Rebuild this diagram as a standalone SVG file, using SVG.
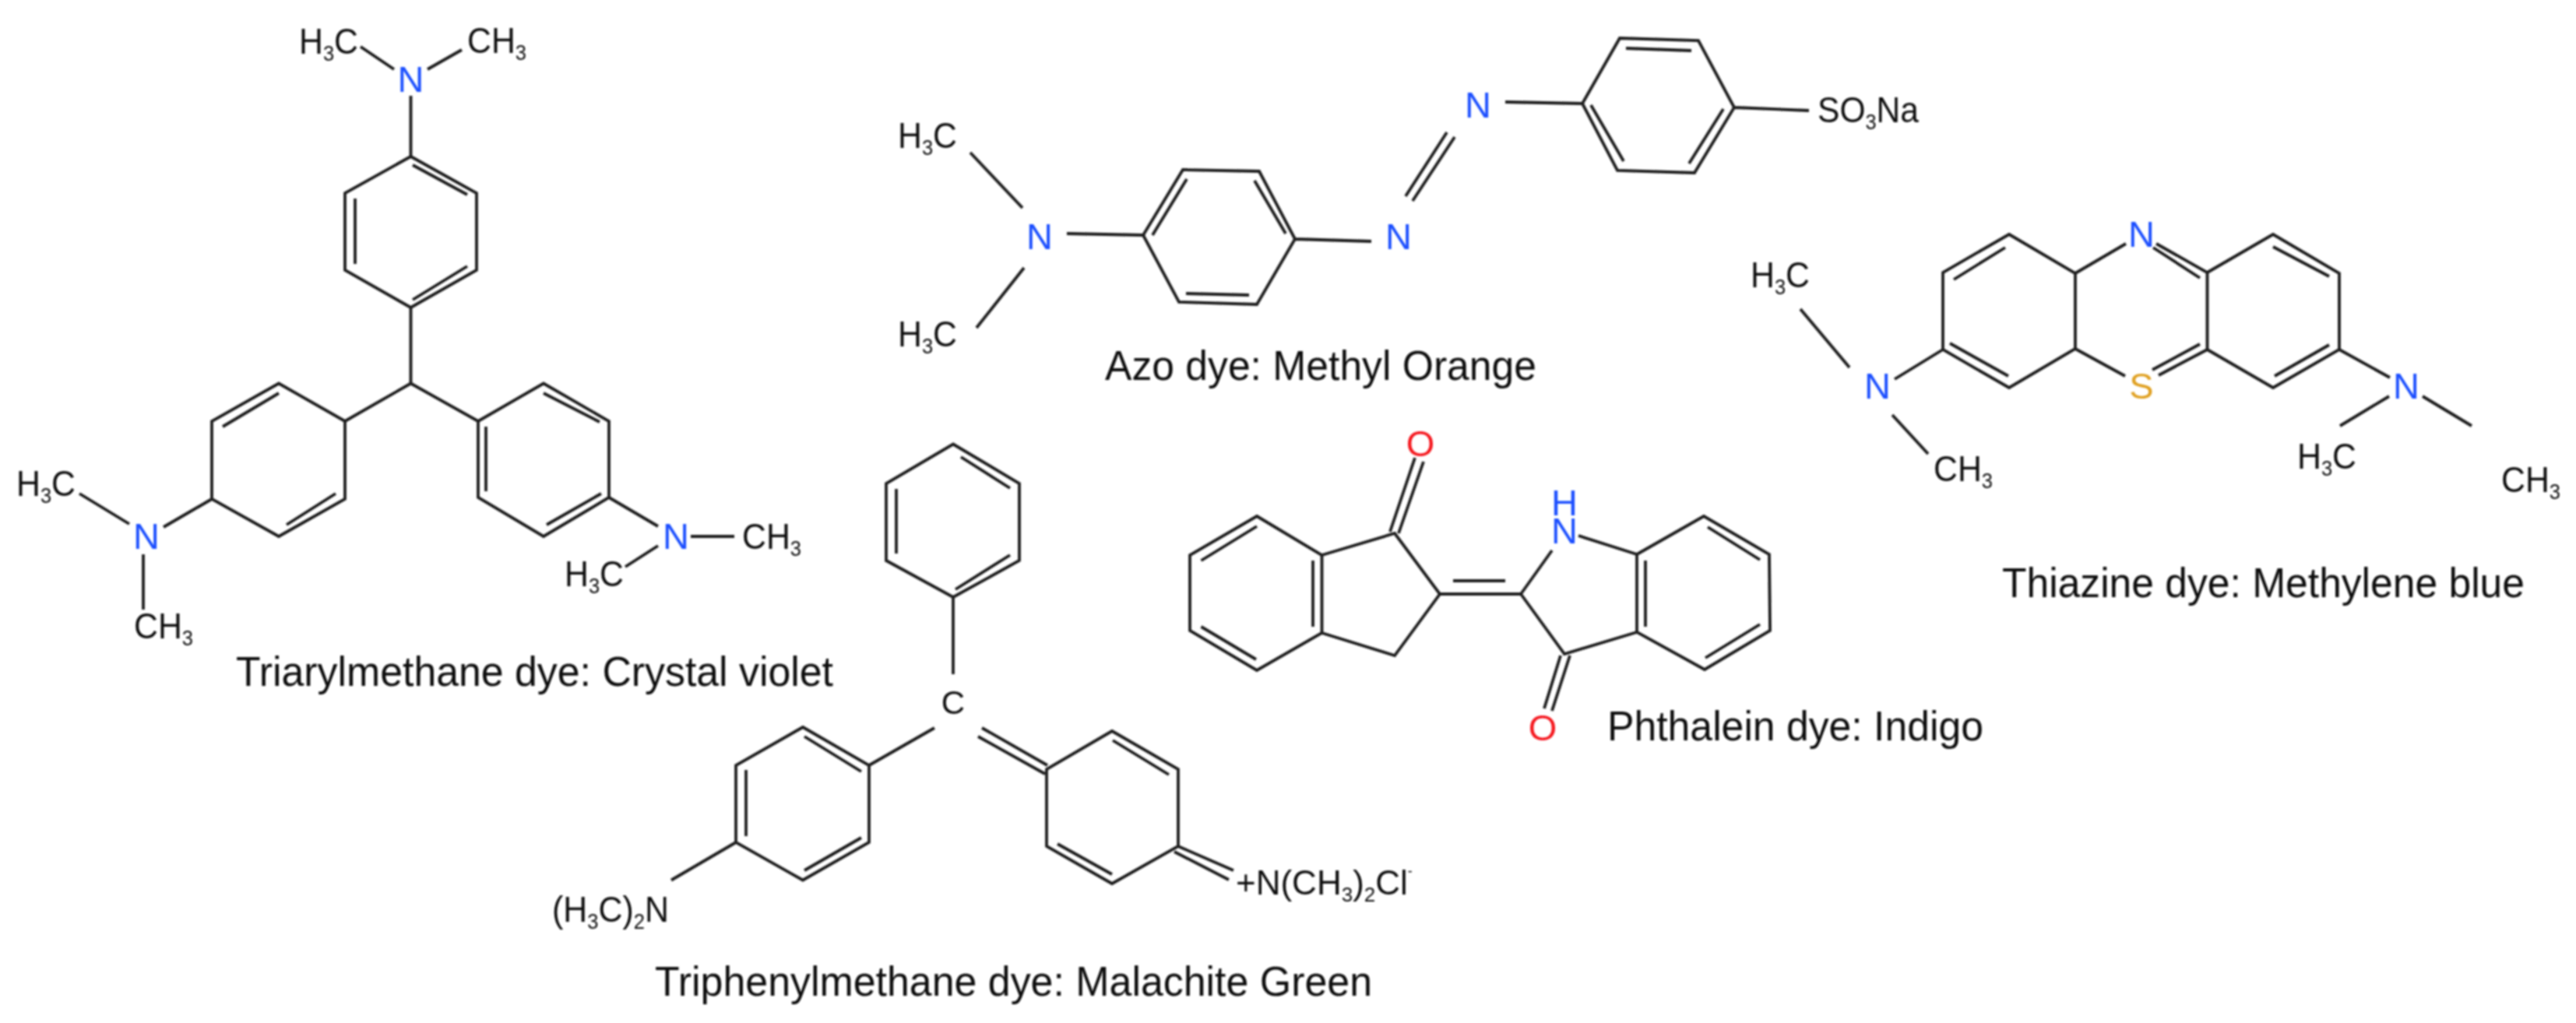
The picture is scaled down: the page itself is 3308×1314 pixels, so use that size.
<svg xmlns="http://www.w3.org/2000/svg" width="3308" height="1314" viewBox="0 0 3308 1314">
<defs><filter id="soft" x="-2%" y="-2%" width="104%" height="104%"><feGaussianBlur stdDeviation="0.8"/></filter></defs>
<style>
.b{fill:none;stroke:#1c1c1c;stroke-width:3.8;stroke-linejoin:miter;stroke-linecap:butt}
text{font-family:"Liberation Sans",Arial,sans-serif;fill:#111}
.a{font-size:47px}
.s{font-size:28px}
.n{fill:#1a4fff;font-size:47px;text-anchor:middle}
.o{fill:#f5141e;font-size:47px;text-anchor:middle}
.u{fill:#e0a020;font-size:47px;text-anchor:middle}
.c{font-size:54px}
</style>
<rect width="3308" height="1314" fill="#fff"/>
<g id="crystal-violet" filter="url(#soft)">
<path class="b" d="M527.5 201L612 248V347L527.5 395L443 347V248ZM530 212L600 250M456 255V339M530 385L600 342M527.5 395V492.5M527.5 123V201M463 60L506 89M593 64L549 89"/>
<path class="b" d="M527.5 492.5L443 541L358 492.5L272 541V641L358 689L443 641V541M286 548L358 505M368 674L431 634M272 641L210 677M102 634L166 673M184 712V783"/>
<path class="b" d="M527.5 492.5L614 541L698 492.5L782 541V639L698 689L614 639V541M698 505L770 542M624 548V631M702 674L772 634M782 639L845 676M887 689H943M845 701L803 728"/>
<text class="n" x="527.5" y="118">N</text>
<text class="a" x="384" y="69" textLength="76" lengthAdjust="spacingAndGlyphs">H<tspan class="s" dy="9">3</tspan><tspan dy="-9">C</tspan></text>
<text class="a" x="600" y="68" textLength="76" lengthAdjust="spacingAndGlyphs">CH<tspan class="s" dy="9">3</tspan></text>
<text class="n" x="188" y="705">N</text>
<text class="a" x="21" y="637" textLength="76" lengthAdjust="spacingAndGlyphs">H<tspan class="s" dy="9">3</tspan><tspan dy="-9">C</tspan></text>
<text class="a" x="172" y="820" textLength="76" lengthAdjust="spacingAndGlyphs">CH<tspan class="s" dy="9">3</tspan></text>
<text class="n" x="868" y="705">N</text>
<text class="a" x="953" y="705" textLength="76" lengthAdjust="spacingAndGlyphs">CH<tspan class="s" dy="9">3</tspan></text>
<text class="a" x="725" y="753" textLength="76" lengthAdjust="spacingAndGlyphs">H<tspan class="s" dy="9">3</tspan><tspan dy="-9">C</tspan></text>
<text class="c" x="303" y="881" textLength="767" lengthAdjust="spacingAndGlyphs">Triarylmethane dye: Crystal violet</text>
</g>
<g id="methyl-orange" filter="url(#soft)">
<path class="b" d="M1519 218L1617 220L1663 307L1614 391L1514 388L1468 302ZM1524 230L1480 302M1611 232L1651 300M1523 377L1604 379M1370 300L1468 302M1246 196L1313 267M1315 344L1254 421M1663 307L1761 310M1858 170L1805 252M1868 176L1814 258M1933 131L2032 133"/>
<path class="b" d="M2032 133L2080 49L2181 52L2227 138L2176 222L2077 219ZM2088 62L2172 65M2043 135L2085 207M2213 140L2169 210M2227 138L2323 142"/>
<text class="n" x="1335" y="320">N</text>
<text class="n" x="1796" y="320">N</text>
<text class="n" x="1898" y="151">N</text>
<text class="a" x="1153" y="190" textLength="76" lengthAdjust="spacingAndGlyphs">H<tspan class="s" dy="9">3</tspan><tspan dy="-9">C</tspan></text>
<text class="a" x="1153" y="445" textLength="76" lengthAdjust="spacingAndGlyphs">H<tspan class="s" dy="9">3</tspan><tspan dy="-9">C</tspan></text>
<text class="a" x="2334" y="157" textLength="130" lengthAdjust="spacingAndGlyphs">SO<tspan class="s" dy="9">3</tspan><tspan dy="-9">Na</tspan></text>
<text class="c" x="1419" y="488" textLength="554" lengthAdjust="spacingAndGlyphs">Azo dye: Methyl Orange</text>
</g>
<g id="methylene-blue" filter="url(#soft)">
<path class="b" d="M2580 301L2665 351V448L2580 498L2495 449V350ZM2509 359L2575 318M2504 441L2579 483M2665 351L2730 313M2665 448L2729 483"/>
<path class="b" d="M2769 313L2834.5 350V449M2765 318L2825 357M2834.5 449L2772 482M2825 442L2764 475M2834.5 350L2919 301L3004 351V449L2919 498L2834.5 449M2919 317L2991 355M2921 483L2991 443"/>
<path class="b" d="M2495 449L2433 487M2312 397L2375 472M2430 533L2476 583M3004 449L3069 485M3068 509L3005 547M3111 509L3174 547"/>
<text class="n" x="2750" y="317">N</text>
<text class="u" x="2750" y="512">S</text>
<text class="n" x="2411" y="512">N</text>
<text class="n" x="3090" y="512">N</text>
<text class="a" x="2248" y="369" textLength="76" lengthAdjust="spacingAndGlyphs">H<tspan class="s" dy="9">3</tspan><tspan dy="-9">C</tspan></text>
<text class="a" x="2483" y="618" textLength="76" lengthAdjust="spacingAndGlyphs">CH<tspan class="s" dy="9">3</tspan></text>
<text class="a" x="2950" y="602" textLength="76" lengthAdjust="spacingAndGlyphs">H<tspan class="s" dy="9">3</tspan><tspan dy="-9">C</tspan></text>
<text class="a" x="3212" y="632" textLength="76" lengthAdjust="spacingAndGlyphs">CH<tspan class="s" dy="9">3</tspan></text>
<text class="c" x="2571" y="767" textLength="671" lengthAdjust="spacingAndGlyphs">Thiazine dye: Methylene blue</text>
</g>
<g id="malachite-green" filter="url(#soft)">
<path class="b" d="M1224 570.5L1309 621V720L1224 767L1138 720V621ZM1234 587L1297 627M1151 628V711M1227 757L1297 713M1224 767V866"/>
<path class="b" d="M1031 934L1116 983V1082L1031 1130.5L945 1082V983ZM1200 935L1116 983M1033 946L1106 991M958 989V1074M1033 1118L1106 1076M945 1082L862 1130.5"/>
<path class="b" d="M1428 939L1513 988V1087L1428 1135L1344 1087V988ZM1345 983L1261 935M1342 994L1256 946M1429 951L1501 995M1358 1084L1428 1123M1513 1087L1584 1118M1508 1094L1578 1130"/>
<text class="a" x="1224" y="917" text-anchor="middle" style="font-size:42px">C</text>
<text class="a" x="709" y="1184" textLength="150" lengthAdjust="spacingAndGlyphs">(H<tspan class="s" dy="9">3</tspan><tspan dy="-9">C)</tspan><tspan class="s" dy="9">2</tspan><tspan dy="-9">N</tspan></text>
<text x="1587" y="1149" style="font-size:44px">+N(CH<tspan class="s" dy="9" style="font-size:26px">3</tspan><tspan dy="-9">)</tspan><tspan class="s" dy="9" style="font-size:26px">2</tspan><tspan dy="-9">Cl</tspan><tspan dy="-24" style="font-size:18px">-</tspan></text>
<text class="c" x="841" y="1279" textLength="921" lengthAdjust="spacingAndGlyphs">Triphenylmethane dye: Malachite Green</text>
</g>
<g id="indigo" filter="url(#soft)">
<path class="b" d="M1614 663L1697.5 713V813L1614 861L1528 810V713ZM1542.5 720L1614 676M1542.5 805L1613 847M1686 720V805"/>
<path class="b" d="M1697.5 713L1791 685L1849 763L1791 842L1697.5 813M1785 683L1817 588M1796 685L1828 593M1849 763H1953M1866 746H1933M1953 763L1993 707M2027 688L2102 712M1953 763L2009 840L2102 812M2004 842L1983 910M2016 842L1993 913"/>
<path class="b" d="M2102 712L2188 663L2272 712L2273 810L2189 860L2102 812ZM2113 720V805M2193 677L2260 719M2190 845L2260 802"/>
<text class="o" x="1824" y="586">O</text>
<text class="n" x="2009" y="662">H<tspan x="2009" dy="36">N</tspan></text>
<text class="o" x="1981" y="951">O</text>
<text class="c" x="2064" y="951" textLength="483" lengthAdjust="spacingAndGlyphs">Phthalein dye: Indigo</text>
</g>
</svg>
